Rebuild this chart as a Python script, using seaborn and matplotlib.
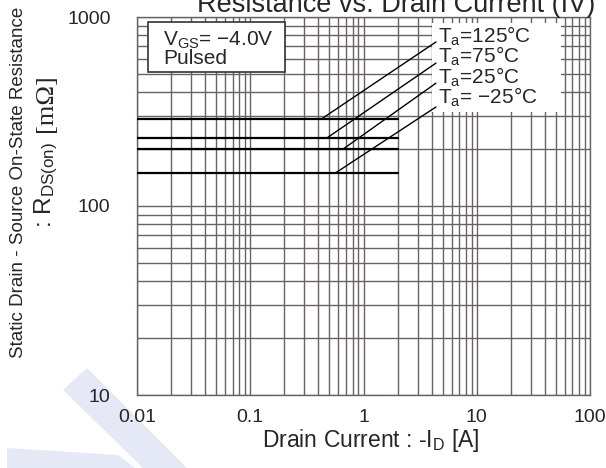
import numpy as np
import pandas as pd
import matplotlib
matplotlib.use("Agg")
import matplotlib.pyplot as plt
from matplotlib.patches import Rectangle, Polygon
from matplotlib.ticker import LogLocator, NullFormatter
import seaborn as sns

# ---- data -------------------------------------------------------------
drain_current = [0.01, 2.0]                      # -I_D [A], ends of each curve
temperatures = ["125", "75", "25", "\u221225"]   # T_a [°C]
r_on = [290, 230, 200, 150]                      # R_DS(on) [mΩ], flat over the range
leader_current = [0.43, 0.48, 0.66, 0.57]        # where each label's leader meets its curve

x_ticks = [0.01, 0.1, 1, 10, 100]
x_tick_labels = ["0.01", "0.1", "1", "10", "100"]
y_ticks = [10, 100, 1000]
y_tick_labels = ["10", "100", "1000"]

rows = []
for t, r in zip(temperatures, r_on):
    for i in drain_current:
        rows.append({"Ta": t, "ID": i, "R": r})
df = pd.DataFrame(rows)

# ---- style --------------------------------------------------------------
sns.set_style("white")
plt.rcParams["font.family"] = ["Liberation Sans", "DejaVu Sans"]
plt.rcParams["mathtext.fontset"] = "custom"
plt.rcParams["mathtext.rm"] = "Liberation Sans"
plt.rcParams["mathtext.it"] = "Liberation Sans:italic"
plt.rcParams["mathtext.bf"] = "Liberation Sans:bold"

W, H = 606, 468
fig = plt.figure(figsize=(W / 100, H / 100), dpi=100)
fig.patch.set_facecolor("white")

def fx(px):
    return px / W

def fy(py):
    return 1 - py / H

# faint watermark bands in the lower-left corner, kept under everything else
wm = "#e5e9f5"
fig.patches.append(Polygon([(fx(63), fy(390)), (fx(87), fy(368)), (fx(187), fy(468)), (fx(143), fy(468))],
                           closed=True, transform=fig.transFigure, facecolor=wm, edgecolor="none", zorder=-5))
fig.patches.append(Polygon([(fx(7), fy(448)), (fx(118), fy(455)), (fx(135), fy(468)), (fx(7), fy(468))],
                           closed=True, transform=fig.transFigure, facecolor=wm, edgecolor="none", zorder=-5))

left, right, top, bottom = 137, 590, 17, 395
ax = fig.add_axes([fx(left), fy(bottom), (right - left) / W, (bottom - top) / H])
ax.set_facecolor("none")
ax.set_zorder(1)

sns.lineplot(data=df, x="ID", y="R", hue="Ta", palette=["black"] * 4,
             linewidth=1.6, legend=False, ax=ax, zorder=3)

ax.set_xscale("log")
ax.set_yscale("log")
ax.set_xlim(0.01, 100)
ax.set_ylim(10, 1000)

ax.xaxis.set_minor_locator(LogLocator(base=10, subs=np.arange(2, 10)))
ax.yaxis.set_minor_locator(LogLocator(base=10, subs=np.arange(2, 10)))
ax.xaxis.set_minor_formatter(NullFormatter())
ax.yaxis.set_minor_formatter(NullFormatter())
ax.set_xticks(x_ticks, x_tick_labels)
ax.set_yticks(y_ticks, y_tick_labels)

grid_c = "#6a6262"
ax.grid(which="both", color=grid_c, linewidth=1.0)
ax.set_axisbelow(True)
for s in ax.spines.values():
    s.set_color(grid_c)
    s.set_linewidth(1.0)

ax.tick_params(axis="both", which="both", length=0)
ax.tick_params(axis="x", pad=10, labelsize=14)
ax.tick_params(axis="y", pad=19, labelsize=14)
ax.set_xlabel("")
ax.set_ylabel("")

# white field behind the temperature labels
ax.add_patch(Rectangle((0.651, 0.75), 0.285, 0.235, transform=ax.transAxes,
                       facecolor="white", edgecolor="none", zorder=2))

leader_y = [0.934, 0.878, 0.825, 0.762]
for ic, r, ey in zip(leader_current, r_on, leader_y):
    ax.annotate("", xy=(ic, r), xycoords="data", xytext=(0.66, ey), textcoords="axes fraction",
                arrowprops=dict(arrowstyle="-", color="black", lw=1.0, shrinkA=0, shrinkB=0),
                zorder=4)

label_lines = []
for t in temperatures:
    sep = "= " if t.startswith("\u2212") else "="
    label_lines.append("T$_{\\mathrm{a}}$" + sep + t + "°C")
ax.text(0.664, 0.868, "\n".join(label_lines), transform=ax.transAxes,
        fontsize=15, ha="left", va="center", linespacing=0.85, zorder=5)

# test-condition box
ax.add_patch(Rectangle((0.024, 0.854), 0.303, 0.133, transform=ax.transAxes,
                       facecolor="white", edgecolor="#333333", lw=1.2, zorder=5))
ax.text(0.057, 0.916, "V$_{\\mathrm{GS}}$= \u22124.0V\nPulsed", transform=ax.transAxes,
        fontsize=15, ha="left", va="center", linespacing=0.9, zorder=6)

# titles and axis captions
fig.text(fx(396), fy(12.5), "Resistance vs. Drain Current (IV)", fontsize=19.5,
         ha="center", va="baseline")
fig.text(fx(371), fy(441), "Drain Current : -I$_{\\mathrm{D}}$ [A]", fontsize=16.5,
         ha="center", va="center")
fig.text(fx(19), fy(182), "Static Drain - Source On-State Resistance", fontsize=13.5,
         rotation=90, ha="center", va="center")
fig.text(fx(46), fy(185), ": R$_{\\mathrm{DS(on)}}$", fontsize=17.5,
         rotation=90, ha="center", va="center")
fig.text(fx(46), fy(103), "[m\u03a9]", fontsize=19, family="Liberation Serif",
         rotation=90, ha="center", va="center")

fig.savefig("out.png", dpi=100, facecolor="white")
